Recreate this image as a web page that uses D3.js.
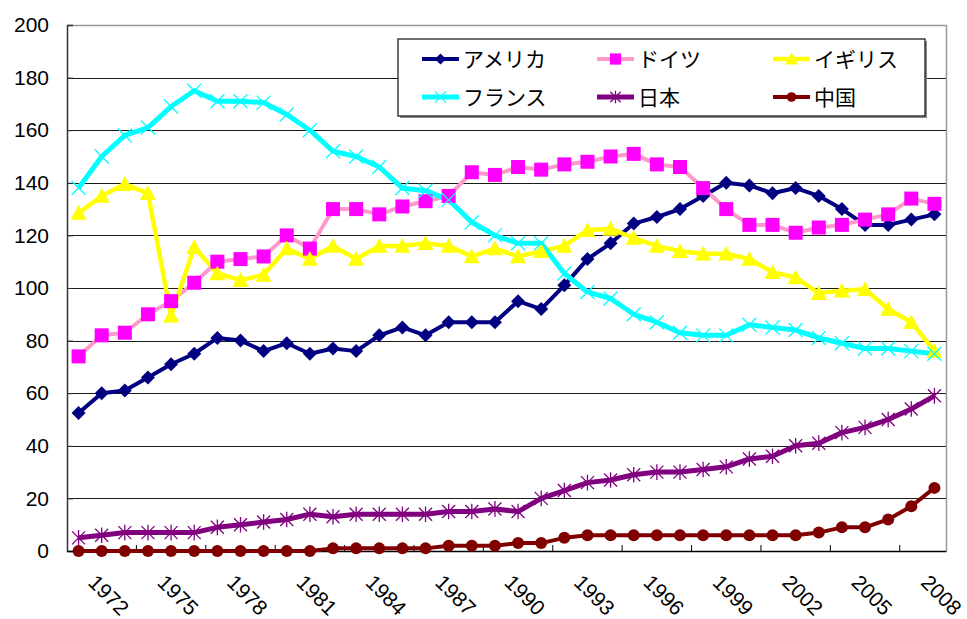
<html>

<head>
    <meta charset="utf-8">
    <script src="https://cdn.jsdelivr.net/npm/d3@7"></script>
    <style>
        body { margin: 0; background: #fff; }
    </style>
</head>

<body>
    <script>

        var years = [];
        for (var yr = 1971; yr <= 2008; yr++) years.push(String(yr));

        var yTicks = [0, 20, 40, 60, 80, 100, 120, 140, 160, 180, 200];

        var names = ['アメリカ', 'ドイツ', 'イギリス', 'フランス', '日本', '中国'];

        var usa = [52.5, 60, 61, 66, 71, 75, 81, 80, 76, 79,
            75, 77, 76, 82, 85, 82, 87, 87, 87, 95,
            92, 101, 111, 117, 124.5, 127, 130, 135, 140, 139,
            136, 138, 135, 130, 124, 124, 126, 128];

        var germany = [74, 82, 83, 90, 95, 102, 110, 111, 112, 120,
            115, 130, 130, 128, 131, 133, 135, 144, 143, 146,
            145, 147, 148, 150, 151, 147, 146, 138, 130, 124,
            124, 121, 123, 124, 126, 128, 134, 132];

        var uk = [128.5, 135, 139.5, 136, 89.5, 115.5, 105.5, 103, 105, 115,
            111, 116, 111, 116, 116, 117, 116, 112, 115, 112,
            114, 116, 122, 122.5, 119, 116, 114, 113, 113, 111,
            106, 104, 98, 99, 99.5, 92, 87, 76];

        var france = [138, 150, 158, 161, 169, 175, 171, 171, 170.5, 166,
            160, 152, 150, 146, 138, 137, 133.5, 125, 120, 117,
            117, 105.5, 98.5, 96, 90, 87, 83, 82, 82, 86,
            85, 84, 81, 79, 77, 77, 76, 75];

        var japan = [5, 6, 7, 7, 7, 7, 9, 10, 11, 12,
            14, 13, 14, 14, 14, 14, 15, 15, 16, 15,
            20, 23, 26, 27, 29, 30, 30, 31, 32, 35,
            36, 40, 41, 45, 47, 50, 54, 59];

        var china = [0, 0, 0, 0, 0, 0, 0, 0, 0, 0,
            0, 1, 1, 1, 1, 1, 2, 2, 2, 3,
            3, 5, 6, 6, 6, 6, 6, 6, 6, 6,
            6, 6, 7, 9, 9, 12, 17, 24];

        var seriesValues = [usa, germany, uk, france, japan, china];

        // line colour, marker colour, marker type, line width
        var styles = [
            { line: '#000080', mark: '#000080', type: 'diamond', lw: 4 },
            { line: '#FF99CC', mark: '#FF00FF', type: 'square', lw: 4 },
            { line: '#FFFF00', mark: '#FFFF00', type: 'triangle', lw: 4.5 },
            { line: '#00FFFF', mark: '#00FFFF', type: 'x', lw: 5 },
            { line: '#800080', mark: '#800080', type: 'star', lw: 5 },
            { line: '#800000', mark: '#800000', type: 'circle', lw: 4 }
        ];

        var series = names.map(function (n, i) {
            return { name: n, values: seriesValues[i], style: styles[i] };
        });

        var w = 967, h = 619;
        var pL = 67, pR = 946, pT = 25, pB = 551;

        var svg = d3.select('body')
            .append('svg')
            .attr('width', w)
            .attr('height', h);

        var x = d3.scaleBand()
            .domain(years)
            .range([pL, pR]);

        var y = d3.scaleLinear()
            .domain([0, 200])
            .range([pB, pT]);

        // gridlines
        svg.append('g')
            .selectAll('line')
            .data(yTicks.filter(function (d) { return d > 0 && d < 200; }))
            .enter()
            .append('line')
            .attr('x1', pL).attr('x2', pR)
            .attr('y1', function (d) { return Math.round(y(d)) + 0.5; })
            .attr('y2', function (d) { return Math.round(y(d)) + 0.5; })
            .attr('stroke', '#1a1a1a')
            .attr('stroke-width', 1);

        // plot border top/right
        svg.append('path')
            .attr('d', 'M' + pL + ',' + (pT + 0.5) + 'H' + (pR + 0.5) + 'V' + pB)
            .attr('fill', 'none')
            .attr('stroke', '#999')
            .attr('stroke-width', 1.5);

        // y axis
        var yAxis = d3.axisLeft(y)
            .tickValues(yTicks)
            .tickSize(-6)
            .tickPadding(18);

        var gy = svg.append('g')
            .attr('transform', 'translate(' + pL + ',0)')
            .call(yAxis);
        gy.select('.domain').attr('stroke', '#333').attr('stroke-width', 1.5);
        gy.selectAll('.tick line').attr('stroke', '#333');
        gy.selectAll('text')
            .attr('font-family', '"Liberation Sans", Arial, sans-serif')
            .attr('font-size', 21)
            .attr('fill', '#000');

        // x axis
        var xAxis = d3.axisBottom(x)
            .tickValues([])
            .tickSizeOuter(0);

        var gx = svg.append('g')
            .attr('transform', 'translate(0,' + pB + ')')
            .call(xAxis);
        gx.select('.domain').attr('stroke', '#000').attr('stroke-width', 1.5);

        var tickYears = years.filter(function (d, i) { return i > 0 && i % 3 === 0; });
        gx.selectAll('.xt')
            .data(tickYears)
            .enter()
            .append('line')
            .attr('class', 'xt')
            .attr('x1', function (d) { return x(d); })
            .attr('x2', function (d) { return x(d); })
            .attr('y1', 0).attr('y2', -6)
            .attr('stroke', '#000');

        var labelYears = years.filter(function (d, i) { return i % 3 === 1; });
        svg.append('g')
            .selectAll('text')
            .data(labelYears)
            .enter()
            .append('text')
            .attr('transform', function (d) {
                return 'translate(' + (x(d) + x.bandwidth() / 2 + 7) + ',' + 595 + ') rotate(45)';
            })
            .attr('text-anchor', 'middle')
            .attr('dy', '0.35em')
            .attr('font-family', '"Liberation Sans", Arial, sans-serif')
            .attr('font-size', 21)
            .text(function (d) { return d; });

        var cx = function (d, i) { return x(years[i]) + x.bandwidth() / 2; };

        var line = d3.line()
            .x(function (d, i) { return cx(d, i); })
            .y(function (d) { return y(d); });

        function marker(sel, type, color, s) {
            if (type === 'diamond') {
                sel.append('path')
                    .attr('d', 'M0,' + (-s) + 'L' + s + ',0L0,' + s + 'L' + (-s) + ',0Z')
                    .attr('fill', color);
            } else if (type === 'square') {
                sel.append('rect')
                    .attr('x', -s).attr('y', -s)
                    .attr('width', 2 * s).attr('height', 2 * s)
                    .attr('fill', color);
            } else if (type === 'triangle') {
                sel.append('path')
                    .attr('d', 'M0,' + (-s) + 'L' + s + ',' + (s * 0.85) + 'L' + (-s) + ',' + (s * 0.85) + 'Z')
                    .attr('fill', color);
            } else if (type === 'circle') {
                sel.append('circle')
                    .attr('r', s)
                    .attr('fill', color);
            } else if (type === 'x') {
                sel.append('path')
                    .attr('d', 'M' + (-s) + ',' + (-s) + 'L' + s + ',' + s + 'M' + s + ',' + (-s) + 'L' + (-s) + ',' + s)
                    .attr('stroke', color).attr('stroke-width', 1.3);
            } else if (type === 'star') {
                sel.append('path')
                    .attr('d', 'M' + (-s) + ',' + (-s) + 'L' + s + ',' + s + 'M' + s + ',' + (-s) + 'L' + (-s) + ',' + s +
                        'M0,' + (-s * 1.2) + 'V' + (s * 1.2))
                    .attr('stroke', color).attr('stroke-width', 1.3);
            }
        }

        var sizes = { diamond: 7, square: 7, triangle: 8, circle: 6, x: 7, star: 6.5 };

        // lines first, then markers
        svg.append('g')
            .selectAll('path')
            .data(series)
            .enter()
            .append('path')
            .attr('d', function (d) { return line(d.values); })
            .attr('fill', 'none')
            .attr('stroke', function (d) { return d.style.line; })
            .attr('stroke-width', function (d) { return d.style.lw; })
            .attr('stroke-linejoin', 'round');

        series.forEach(function (s) {
            svg.append('g')
                .selectAll('g')
                .data(s.values)
                .enter()
                .append('g')
                .attr('transform', function (d, i) { return 'translate(' + cx(d, i) + ',' + y(d) + ')'; })
                .each(function () {
                    marker(d3.select(this), s.style.type, s.style.mark, sizes[s.style.type]);
                });
        });

        // legend
        var lg = svg.append('g');
        lg.append('rect')
            .attr('x', 400).attr('y', 41)
            .attr('width', 527).attr('height', 77)
            .attr('fill', '#888');
        lg.append('rect')
            .attr('x', 398).attr('y', 39)
            .attr('width', 527).attr('height', 77)
            .attr('fill', '#fff')
            .attr('stroke', '#222')
            .attr('stroke-width', 1.3);

        var lx = [422, 597, 773], ly = [59, 97];
        var item = lg.selectAll('.item')
            .data(series)
            .enter()
            .append('g')
            .attr('class', 'item')
            .attr('transform', function (d, i) {
                return 'translate(' + lx[i % 3] + ',' + ly[Math.floor(i / 3)] + ')';
            });

        item.append('line')
            .attr('x1', 0).attr('x2', 37)
            .attr('stroke', function (d) { return d.style.line; })
            .attr('stroke-width', function (d) { return d.style.lw; });

        item.each(function (d) {
            var g = d3.select(this).append('g').attr('transform', 'translate(18.5,0)');
            marker(g, d.style.type, d.style.mark, sizes[d.style.type] * 0.8);
        });

        item.append('text')
            .attr('x', 41)
            .attr('dy', '0.36em')
            .attr('font-family', '"Noto Sans CJK JP", sans-serif')
            .attr('font-size', 21)
            .attr('fill', '#000')
            .text(function (d) { return d.name; });

    </script>

</body>

</html>
